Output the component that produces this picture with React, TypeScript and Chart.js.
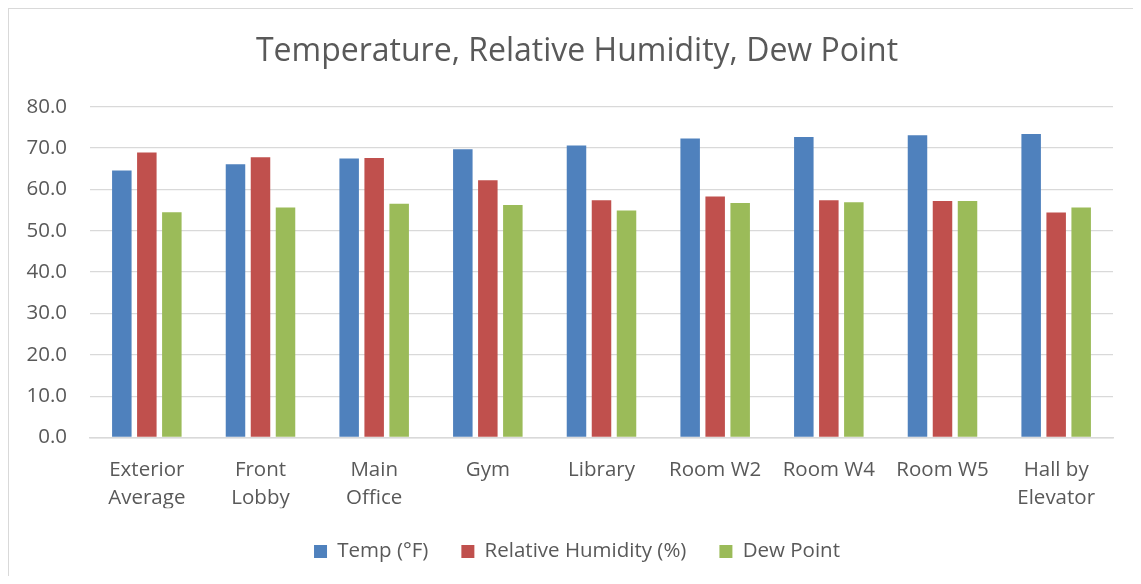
import React, { useEffect, useRef } from "react";
import { Chart, registerables } from "chart.js";

Chart.register(...registerables);

const categories: (string | string[])[] = [
  ["Exterior", "Average"],
  ["Front", "Lobby"],
  ["Main", "Office"],
  "Gym",
  "Library",
  "Room W2",
  "Room W4",
  "Room W5",
  ["Hall by", "Elevator"],
];

const tempF = [64.6, 66.1, 67.5, 69.7, 70.6, 72.3, 72.7, 73.1, 73.4];
const relHumidity = [68.9, 67.8, 67.6, 62.2, 57.4, 58.3, 57.4, 57.2, 54.4];
const dewPoint = [54.5, 55.6, 56.5, 56.2, 54.9, 56.7, 56.9, 57.2, 55.6];

const seriesNames = ["Temp (°F)", "Relative Humidity (%)", "Dew Point"];
const seriesColors = ["#4F81BD", "#C0504D", "#9BBB59"];
const chartTitle = "Temperature, Relative Humidity, Dew Point";

const FONT = "'Open Sans', sans-serif";
const TEXT = "#595959";
const GRID = "#d9d9d9";

export default function App() {
  const ref = useRef<HTMLCanvasElement | null>(null);

  useEffect(() => {
    document.documentElement.style.overflow = "hidden";
    const canvas = ref.current;
    if (!canvas) return;
    const values = [tempF, relHumidity, dewPoint];
    const chart = new Chart(canvas, {
      type: "bar",
      data: {
        labels: categories as any,
        datasets: values.map((v, i) => ({
          label: seriesNames[i],
          data: v,
          backgroundColor: seriesColors[i],
          borderWidth: 0,
          categoryPercentage: 0.66,
          barPercentage: 0.78,
          yAxisID: "y",
        })),
      },
      options: {
        responsive: false,
        animation: false,
        layout: { padding: { left: 0, right: 0, top: 0, bottom: 4.25 } },
        plugins: {
          tooltip: { enabled: false },
          title: {
            display: true,
            text: chartTitle,
            color: TEXT,
            font: { family: FONT, size: 32, weight: "normal", lineHeight: 1.2 },
            padding: { top: 24.1, bottom: 35.2 },
          },
          legend: {
            position: "bottom",
            labels: {
              color: TEXT,
              font: { family: FONT, size: 20.5 },
              boxWidth: 13,
              boxHeight: 13,
              padding: 33,
            },
          },
        },
        scales: {
          x: {
            grid: { display: false, drawTicks: false },
            border: { display: true, color: GRID, width: 1.5 },
            ticks: {
              color: TEXT,
              font: { family: FONT, size: 20.5, lineHeight: 1.366 },
              padding: 19,
              maxRotation: 0,
              autoSkip: false,
            },
            afterFit: (s: any) => {
              s.height = 70.75;
            },
          },
          y: {
            min: 0,
            max: 80,
            grid: { color: GRID, lineWidth: 1.3, drawTicks: false },
            border: { display: false },
            ticks: {
              stepSize: 10,
              color: TEXT,
              font: { family: FONT, size: 20.5 },
              padding: 23,
              callback: (v: any) => Number(v).toFixed(1),
            },
            afterFit: (s: any) => {
              s.width = 81;
            },
          },
          y2: {
            position: "right",
            min: 0,
            max: 80,
            grid: { display: false, drawTicks: false },
            border: { display: false },
            ticks: { display: false },
            afterFit: (s: any) => {
              s.width = 32;
            },
          },
        },
      },
    });
    return () => chart.destroy();
  }, []);

  return (
    <div
      style={{
        width: 1137,
        height: 568,
        boxSizing: "border-box",
        borderTop: `1px solid ${GRID}`,
        borderLeft: `1px solid ${GRID}`,
        background: "#fff",
      }}
    >
      <canvas ref={ref} width={1136} height={567} style={{ display: "block" }} />
    </div>
  );
}
